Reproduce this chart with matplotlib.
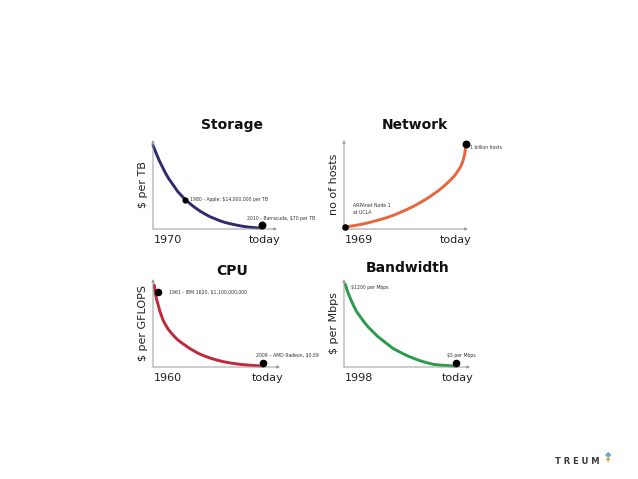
import numpy as np
import matplotlib
matplotlib.use("Agg")
import matplotlib.pyplot as plt

plt.rcParams['font.family'] = ['DejaVu Sans']

# curves, in 0-100 units of each small panel
storage_x = [0, 2, 5, 7.5, 10, 12.5, 15, 17.5, 20, 23, 26, 29, 32, 35, 38, 43,
             46, 50, 54, 59, 63, 67, 71, 75, 79, 82, 85, 88]
storage_y = [94, 87, 77, 70, 63, 57, 52, 47, 42, 37.5, 33, 29.5, 26, 23, 20, 16,
             13.8, 11.5, 9.2, 7, 5.7, 4.5, 3.4, 2.5, 1.9, 1.5, 1.2, 1]

network_x = [1, 5, 10, 15, 20, 25, 29, 35, 40, 45, 50, 56, 60, 65, 69, 72, 77,
             80, 84, 88, 90, 92, 94, 95, 96, 97, 97.5, 98, 98.4]
network_y = [2, 3.1, 4.2, 5.6, 7.2, 9, 10.5, 13, 15.5, 18.4, 21.5, 25.5, 28.5,
             32.5, 36, 39, 44, 47.5, 52.5, 58, 61.5, 65.5, 70, 73, 77, 82, 86,
             91, 96]

cpu_x = [1, 1.5, 2, 3, 4, 5.5, 7, 8, 9.5, 11, 13, 16, 19, 22, 25, 29, 32, 35,
         38, 42, 46, 50, 54, 58, 62, 66, 70, 74, 80, 87]
cpu_y = [93, 87, 82, 76, 71, 63, 57, 53, 49, 45, 41, 36, 31.5, 28, 25, 21, 18.5,
         16, 14, 11.7, 9.7, 8, 6.5, 5.3, 4.3, 3.5, 2.8, 2.3, 1.6, 1.1]

bw_x = [1, 3, 5, 7.5, 10, 13, 16, 19.5, 23, 26.5, 30, 34.5, 39, 43, 47, 51, 55,
        59, 63, 67, 71, 75, 80, 85, 89]
bw_y = [94, 85, 78, 70, 63, 57, 51, 45, 40, 35, 31, 26, 21, 18, 15, 12.3, 10,
        7.8, 6, 4.4, 3, 2.4, 1.8, 1.3, 1]

panels = [
    dict(title="Storage", ylabel="$ per TB", start="1970", x=storage_x, y=storage_y,
         color="#2f2b6e", box=(153, 140, 124, 89), title_xy=(232, 125),
         dots=[(26, 33, 12), (87.7, 4.5, 22)],
         notes=[(30, 33, "1980 - Apple: $14,000,000 per TB", "left"),
                (103.6, 12, "2010 - Barracuda, $70 per TB", "center")]),
    dict(title="Network", ylabel="no of hosts", start="1969", x=network_x, y=network_y,
         color="#e8663d", box=(344, 140, 124, 89), title_xy=(415, 125),
         dots=[(1, 2, 14), (98.4, 96, 22)],
         notes=[(7.3, 22, "ARPAnet Node 1\nat UCLA", "left"),
                (101.6, 92, "1 billion hosts", "left")]),
    dict(title="CPU", ylabel="$ per GFLOPS", start="1960", x=cpu_x, y=cpu_y,
         color="#c0283b", box=(153, 279, 127, 88), title_xy=(232, 271),
         dots=[(4.2, 85.6, 20), (86.4, 4.2, 20)],
         notes=[(12.6, 84.4, "1961 - IBM 1620, $1,100,000,000", "left"),
                (106, 12.8, "2009 \u2013 AMD Radeon, $0.59", "center")]),
    dict(title="Bandwidth", ylabel="$ per Mbps", start="1998", x=bw_x, y=bw_y,
         color="#2b9a4b", box=(344, 279, 126, 88), title_xy=(408, 268),
         dots=[(88.6, 4.2, 20)],
         notes=[(5.6, 89.8, "$1200 per Mbps", "left"),
                (92.9, 12.8, "$5 per Mbps", "center")]),
]

W, H = 638, 479
fig = plt.figure(figsize=(W / 100, H / 100), dpi=100)
fig.patch.set_facecolor("white")

for p in panels:
    left, top, w, h = p["box"]
    ax = fig.add_axes([left / W, 1 - (top + h) / H, w / W, h / H])
    ax.set_xlim(0, 100)
    ax.set_ylim(0, 100)
    for s in ax.spines.values():
        s.set_visible(False)
    ax.set_xticks([])
    ax.set_yticks([])
    ax.patch.set_alpha(0)

    # axes with small arrow heads
    ax.annotate("", xy=(0, 1), xytext=(0, 0), xycoords="axes fraction",
                arrowprops=dict(arrowstyle="-|>", color="#9a9a9a", lw=0.7,
                                mutation_scale=4, shrinkA=0, shrinkB=0))
    ax.annotate("", xy=(1, 0), xytext=(0, 0), xycoords="axes fraction",
                arrowprops=dict(arrowstyle="-|>", color="#9a9a9a", lw=0.7,
                                mutation_scale=4, shrinkA=0, shrinkB=0))

    ax.plot(p["x"], p["y"], color=p["color"], lw=2.1, solid_capstyle="round",
            solid_joinstyle="round", clip_on=False)
    for dx, dy, ds in p["dots"]:
        ax.scatter([dx], [dy], s=ds, color="black", zorder=5, clip_on=False)
    for nx, ny, txt, ha in p["notes"]:
        ax.text(nx, ny, txt, fontsize=3.3, ha=ha, va="center", color="#333333",
                linespacing=1.5)

    # labels under the x axis
    ax.text(0.12, -0.12, p["start"], transform=ax.transAxes, ha="center",
            va="center", fontsize=8, color="#222222")
    ax.text(0.9, -0.12, "today", transform=ax.transAxes, ha="center",
            va="center", fontsize=8, color="#222222")
    ax.text(-0.08, 0.5, p["ylabel"], transform=ax.transAxes, ha="center",
            va="center", rotation=90, fontsize=8, color="#222222")

    tx, ty = p["title_xy"]
    fig.text(tx / W, 1 - ty / H, p["title"], ha="center", va="center",
             fontsize=10, fontweight="bold", color="#111111")

# logo in the corner
fig.text(577 / W, 1 - 461 / H, "T R E U M", ha="center", va="center",
         fontsize=6, fontweight="bold", color="#3a3a3a")
fig.text(608 / W, 1 - 455 / H, "\u25c6", ha="center", va="center",
         fontsize=6, color="#6aa8c8")
fig.text(608 / W, 1 - 461 / H, "\u25bc", ha="center", va="center",
         fontsize=4, color="#e89a3a")

fig.savefig("out.png", dpi=100)
